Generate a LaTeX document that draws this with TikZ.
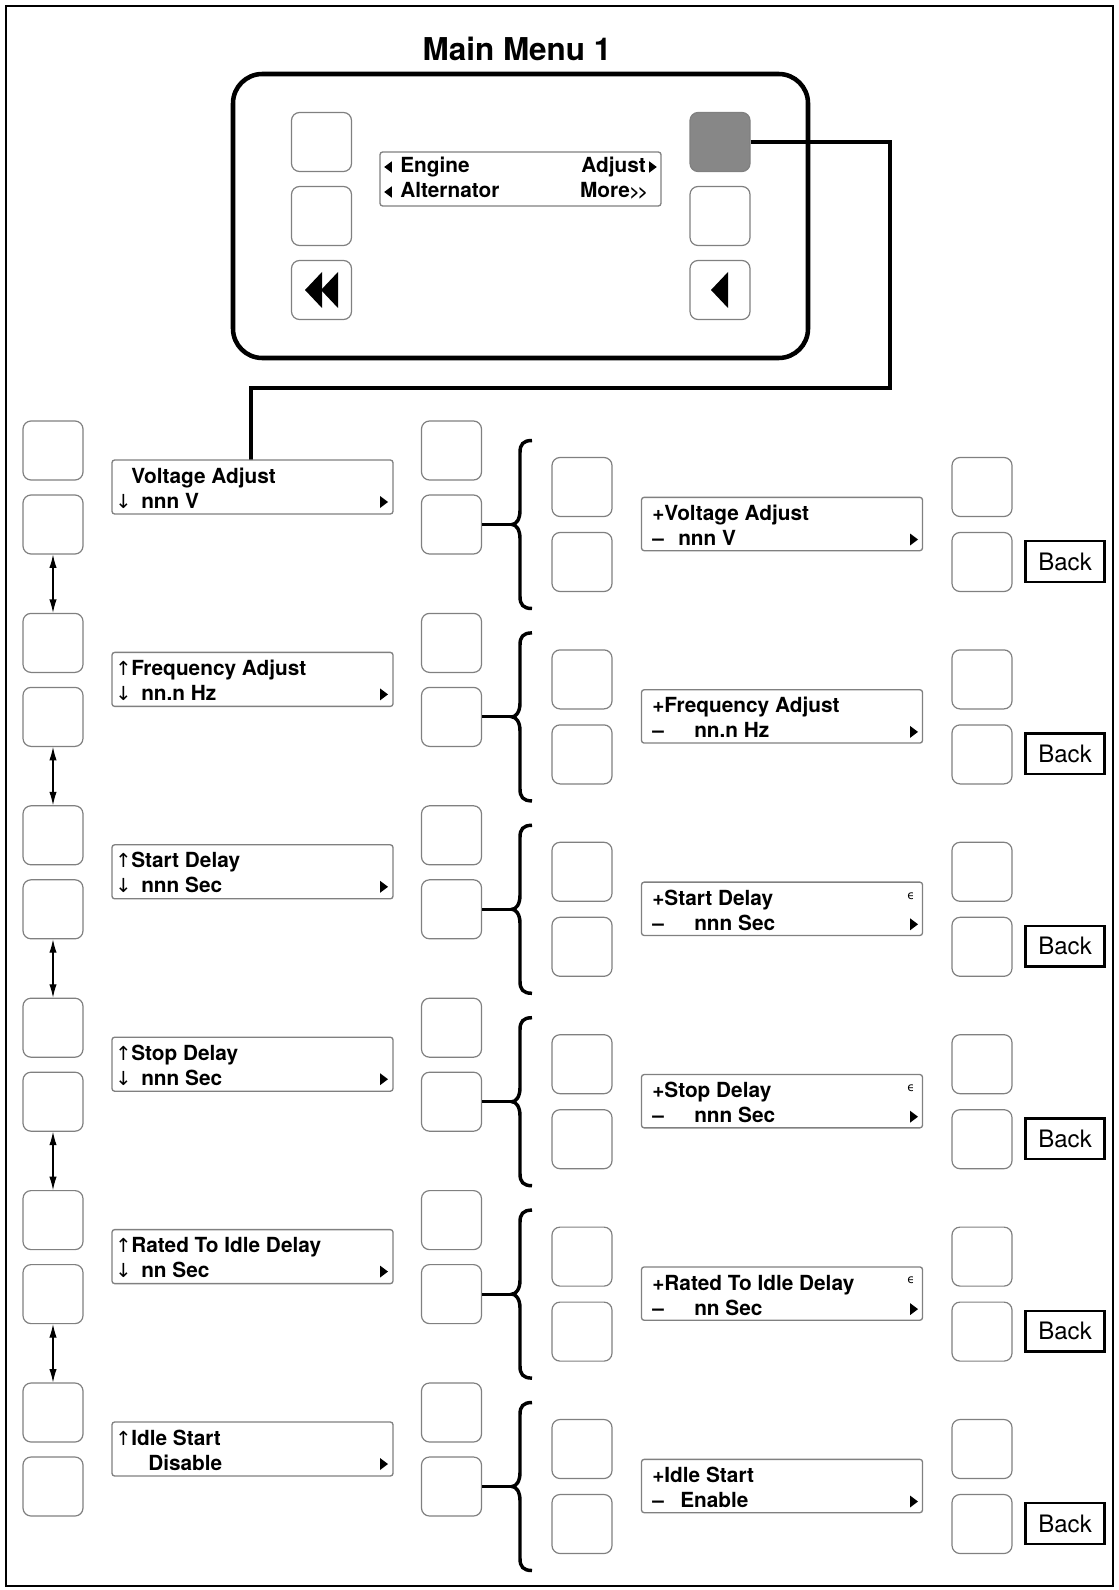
\documentclass[tikz,border=0pt]{standalone}
\usepackage{fontspec}
\setmainfont{TeX Gyre Heros}
\newfontfamily\symf{DejaVu Sans}
\usetikzlibrary{arrows.meta}
\definecolor{btngray}{HTML}{808080}
\definecolor{keyfill}{HTML}{878787}
\tikzset{
  btn/.style={draw=btngray, line width=0.9pt, rounded corners=6pt, minimum width=45pt, minimum height=44.25pt, inner sep=0pt},
  lcd/.style={draw=btngray, line width=1pt, rounded corners=2pt, minimum width=210.75pt, minimum height=40pt, inner sep=0pt},
  backbox/.style={draw, line width=1.8pt, minimum width=59pt, minimum height=30.5pt, inner sep=0pt, font=\fontsize{18}{20}\selectfont},
  txt/.style={anchor=base west, inner sep=0pt, font=\bfseries\fontsize{15.6}{18}\selectfont},
  arr/.style={anchor=base west, inner sep=0pt, font=\symf\fontsize{14.5}{15}\selectfont},
  wire/.style={line width=2.3pt},
  dbl/.style={{Latex[length=10pt,width=5.5pt]}-{Latex[length=10pt,width=5.5pt]}, line width=0.8pt},
  rtri/.pic={\fill (-4,-6) -- (4,0) -- (-4,6) -- cycle;},
  ltri/.pic={\fill (4,-6) -- (-4,0) -- (4,6) -- cycle;},
}
\begin{document}
\begin{tikzpicture}[x=0.75pt,y=-0.75pt]
\useasboundingbox (0,0) rectangle (1118,1590);
\draw[line width=1.1pt] (6,6) rectangle (1113,1586);

% main menu panel
\node[font=\bfseries\fontsize{23.6}{26}\selectfont, anchor=base, inner sep=0pt] (title) at (517,61) {Main Menu 1};
\draw[line width=3.4pt, rounded corners=22pt] (233,74) rectangle (808,358);
\node[btn] (pl1) at (321.5,142) {};
\node[btn] (pl2) at (321.5,216) {};
\node[btn] (pl3) at (321.5,290) {};
\node[btn, fill=keyfill] (pr1) at (720,142) {};
\node[btn] (pr2) at (720,216) {};
\node[btn] (pr3) at (720,290) {};
\fill (305,290) -- (322,272) -- (322,308) -- cycle;
\fill (321,290) -- (338,272) -- (338,308) -- cycle;
\fill (711,290) -- (728,272) -- (728,308) -- cycle;
\node[lcd, minimum height=40.5pt] (lcd) at (520.5,179) {};
\pic[scale=0.95] at (388,167) {ltri};
\pic[scale=0.95] at (388,192) {ltri};
\pic[scale=0.95] at (653,167) {rtri};
\node[txt] (eng) at (400,173) {Engine};
\node[txt] (alt) at (400,198) {Alternator};
\node[txt, anchor=base east] (adjk) at (646,173) {Adjust};
\node[txt, anchor=base east] (more) at (648,198) {More{\fontsize{12.5}{14}\selectfont>\kern-1.2pt>}};

% link to first menu
\coordinate (bend) at (890,388);
\coordinate (drop) at (251,460);
\draw[wire] (pr1.east) -| (bend) -| (drop);

% rows
\foreach \row/\ma/\mb/\xb/\ub/\xu/\eps in {
  0/Voltage Adjust/nnn V/141/nnn V/678/0,
  1/Frequency Adjust/nn.n Hz/141/nn.n Hz/694/0,
  2/Start Delay/nnn Sec/141/nnn Sec/694/1,
  3/Stop Delay/nnn Sec/141/nnn Sec/694/1,
  4/Rated To Idle Delay/nn Sec/141/nn Sec/694/1,
  5/Idle Start/Disable/148/Enable/680/0}{
  \pgfmathsetmacro\yo{192.4*\row}
  \node[btn] (l1-\row) at (53,450.5+\yo) {};
  \node[btn] (l2-\row) at (53,524.5+\yo) {};
  \node[btn] (m1-\row) at (451.5,450.5+\yo) {};
  \node[btn] (m2-\row) at (451.5,524.5+\yo) {};
  \node[btn] (r1-\row) at (582,487+\yo) {};
  \node[btn] (r2-\row) at (582,562+\yo) {};
  \node[btn] (f1-\row) at (982,487+\yo) {};
  \node[btn] (f2-\row) at (982,562+\yo) {};
  \node[backbox] (back-\row) at (1065,561.5+\yo) {Back};
  % menu line
  \node[lcd, minimum height=40.5pt] (menu-\row) at (252.5,487+\yo) {};
  \ifnum\row>0 \node[arr] (up-\row) at (115,483+\yo) {↑}; \fi
  \ifnum\row<5 \node[arr] (dn-\row) at (115,508+\yo) {↓}; \fi
  \node[txt] (ma-\row) at (131,483+\yo) {\ma};
  \node[txt] (mb-\row) at (\xb,508+\yo) {\mb};
  \pic at (384,502+\yo) {rtri};
  % adjust line
  \node[lcd] (adj-\row) at (782,524+\yo) {};
  \node[txt] (ua-\row) at (652,520.5+\yo) {+\ma};
  \node[txt] (mi-\row) at (652,545.5+\yo) {–};
  \node[txt] (ub-\row) at (\xu,545.5+\yo) {\ub};
  \pic at (914,539.5+\yo) {rtri};
  \ifnum\eps=1 \node[font=\symf\fontsize{9}{9}\selectfont, inner sep=0pt] (eps-\row) at (911,511+\yo) {ϵ}; \fi
  % brace
  \coordinate (tip-\row) at (512,524.5+\yo);
  \draw[wire] (m2-\row.east) -- (tip-\row);
  \begin{scope}[shift={(512,524.5+\yo)}]
    \draw[line width=2.6pt] (20,-84) .. controls (11,-84) and (8,-80) .. (8,-72) -- (8,-14)
      .. controls (8,-5) and (4,0) .. (0,0) .. controls (4,0) and (8,5) .. (8,14) -- (8,72)
      .. controls (8,80) and (11,84) .. (20,84);
  \end{scope}
}
\foreach \row in {0,...,4}{
  \pgfmathtruncatemacro\nxt{\row+1}
  \draw[dbl] (l2-\row.south) -- (l1-\nxt.north);
}
\end{tikzpicture}
\end{document}
